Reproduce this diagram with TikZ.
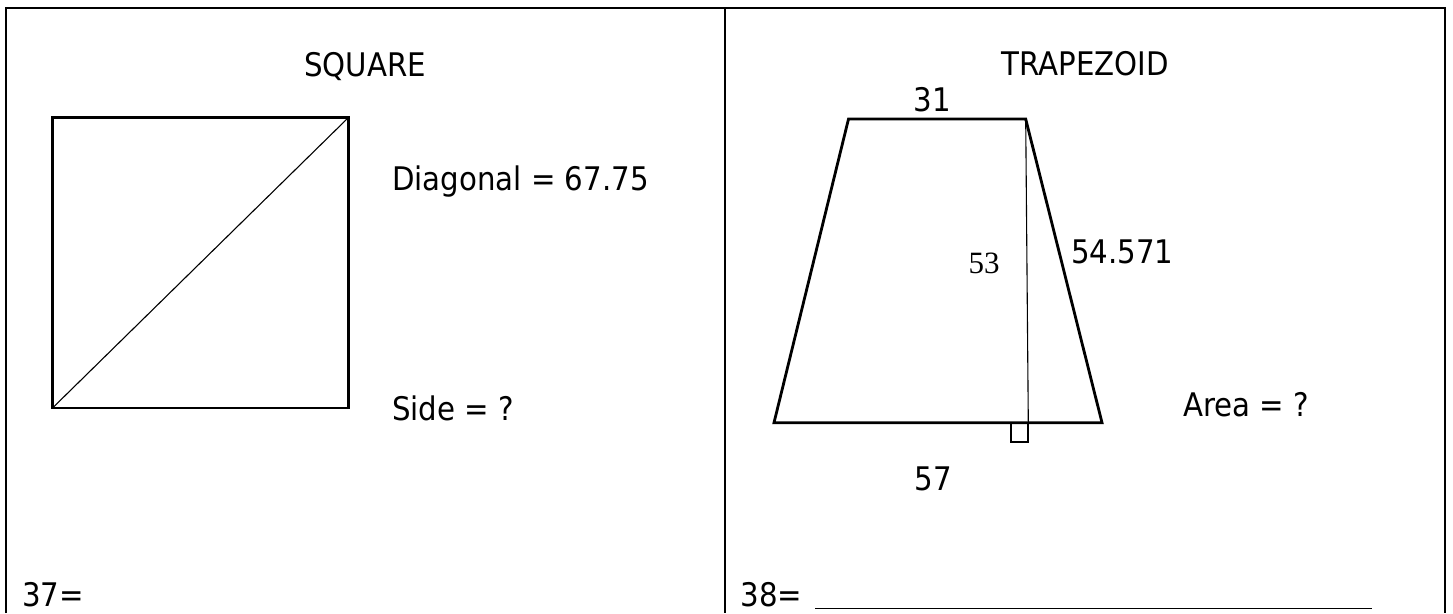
\documentclass[tikz,border=0pt]{standalone}
\usepackage{fontspec}
\setmainfont{DejaVu Sans}[FakeStretch=0.9]
\newfontfamily\serifnum{Liberation Serif}
\begin{document}
\begin{tikzpicture}[x=1pt,y=-1pt,
  lbl/.style={inner sep=0pt,font=\fontsize{32.5}{38}\selectfont},
  frame/.style={line width=2.8pt},
  shapeline/.style={line width=2.8pt,line join=miter},
  thinline/.style={line width=1.1pt}]
\useasboundingbox (0,0) rectangle (1453,613);
% frame
\coordinate (fbl) at (6,613);
\coordinate (ftl) at (6,8);
\coordinate (ftr) at (1445,8);
\coordinate (fbr) at (1445,613);
\coordinate (dtop) at (725,8);
\coordinate (dbot) at (725,613);
\draw[frame] (fbl) -- (ftl) -- (ftr) -- (fbr);
\draw[frame] (dtop) -- (dbot);
% square
\coordinate (sqbl) at (52.5,408);
\coordinate (sqtr) at (348.5,117.5);
\draw[shapeline] (sqbl) rectangle (sqtr);
\draw[thinline] (sqbl) -- (sqtr);
\node[lbl,anchor=base] (sqtitle) at (365,76.5) {SQUARE};
\node[lbl,anchor=base west] (diag) at (392,190) {Diagonal = 67.75};
\node[lbl,anchor=base west] (side) at (392,420) {Side = ?};
\node[lbl,anchor=base west] (q37) at (22,606) {37=};
% trapezoid
\coordinate (tl) at (848.5,119);
\coordinate (tr) at (1025.7,119);
\coordinate (br) at (1102,422.7);
\coordinate (bl) at (774,422.7);
\coordinate (hf) at (1028.3,422.7);
\draw[shapeline] (tl) -- (tr) -- (br) -- (bl) -- cycle;
\draw[thinline] (tr) -- (hf);
\coordinate (ra1) at (1011,422.7);
\coordinate (ra2) at (1028.3,442);
\draw[line width=2.2pt] (ra1) |- (ra2) -- (hf);
\node[lbl,anchor=base] (trtitle) at (1085,75.7) {TRAPEZOID};
\node[lbl,anchor=base] (top31) at (932,111.7) {31};
\node[inner sep=0pt,anchor=base,font=\serifnum\fontsize{31}{36}\selectfont] (h53) at (984,273.3) {53};
\node[lbl,anchor=base west] (s54) at (1071,263.3) {54.571};
\node[lbl,anchor=base] (b57) at (933.5,490) {57};
\node[lbl,anchor=base west] (area) at (1183,416.7) {Area = ?};
\node[lbl,anchor=base west] (q38) at (740.5,606) {38=};
\coordinate (ul1) at (815,608.5);
\coordinate (ul2) at (1372,608.5);
\draw[line width=1.6pt] (ul1) -- (ul2);
\end{tikzpicture}
\end{document}
